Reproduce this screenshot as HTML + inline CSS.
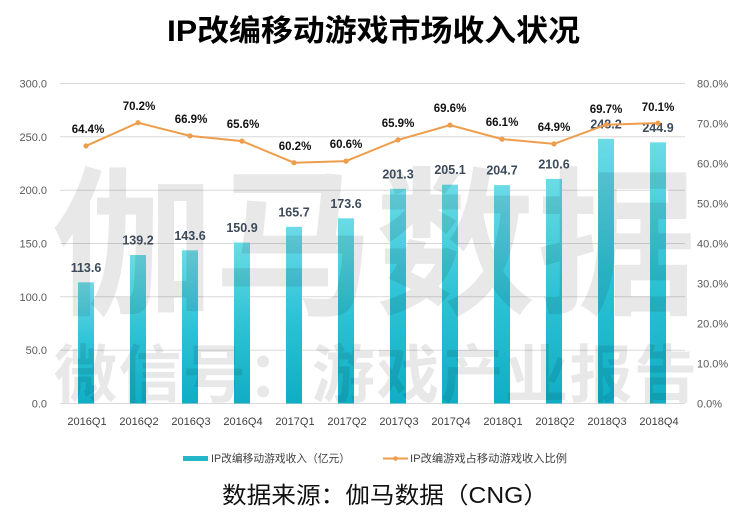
<!DOCTYPE html>
<html><head><meta charset="utf-8"><style>
html,body{margin:0;padding:0;background:#fff;}
svg{display:block;}
text{font-family:"Liberation Sans","Noto Sans CJK SC",sans-serif;}
</style></head><body>
<svg width="750" height="524" viewBox="0 0 750 524" xmlns="http://www.w3.org/2000/svg">
<defs>
<linearGradient id="bg" x1="0" y1="0" x2="0" y2="1">
<stop offset="0" stop-color="#6cdbe6"/>
<stop offset="0.5" stop-color="#2ec3d6"/>
<stop offset="1" stop-color="#10adc4"/>
</linearGradient>
</defs>
<rect width="750" height="524" fill="#fff"/>
<text x="167" y="41" font-size="30" font-weight="bold" fill="#000" textLength="413" lengthAdjust="spacingAndGlyphs" style="font-family:'Liberation Sans','Noto Sans CJK SC',sans-serif">IP改编移动游戏市场收入状况</text>
<g stroke="#d9d9d9" stroke-width="1">
<line x1="60" y1="83.5" x2="685" y2="83.5"/>
<line x1="60" y1="136.8" x2="685" y2="136.8"/>
<line x1="60" y1="190.2" x2="685" y2="190.2"/>
<line x1="60" y1="243.5" x2="685" y2="243.5"/>
<line x1="60" y1="296.8" x2="685" y2="296.8"/>
<line x1="60" y1="350.2" x2="685" y2="350.2"/>
<line x1="60" y1="403.5" x2="685" y2="403.5"/>
</g>
<g font-size="11" fill="#595959" text-anchor="end">
<text x="47" y="87.5">300.0</text>
<text x="47" y="140.8">250.0</text>
<text x="47" y="194.2">200.0</text>
<text x="47" y="247.5">150.0</text>
<text x="47" y="300.8">100.0</text>
<text x="47" y="354.2">50.0</text>
<text x="47" y="407.5">0.0</text>
</g>
<g font-size="11" fill="#595959">
<text x="697" y="87.5">80.0%</text>
<text x="697" y="127.5">70.0%</text>
<text x="697" y="167.5">60.0%</text>
<text x="697" y="207.5">50.0%</text>
<text x="697" y="247.5">40.0%</text>
<text x="697" y="287.5">30.0%</text>
<text x="697" y="327.5">20.0%</text>
<text x="697" y="367.5">10.0%</text>
<text x="697" y="407.5">0.0%</text>
</g>
<g fill="url(#bg)">
<rect x="78" y="282.3" width="16" height="121.2"/>
<rect x="130" y="255.0" width="16" height="148.5"/>
<rect x="182" y="250.3" width="16" height="153.2"/>
<rect x="234" y="242.5" width="16" height="161.0"/>
<rect x="286" y="226.8" width="16" height="176.7"/>
<rect x="338" y="218.3" width="16" height="185.2"/>
<rect x="390" y="188.8" width="16" height="214.7"/>
<rect x="442" y="184.7" width="16" height="218.8"/>
<rect x="494" y="185.1" width="16" height="218.4"/>
<rect x="546" y="178.9" width="16" height="224.6"/>
<rect x="598" y="138.8" width="16" height="264.7"/>
<rect x="650" y="142.3" width="16" height="261.2"/>
</g>
<g fill="rgba(0,0,0,0.09)" font-weight="bold" style="font-family:'Noto Sans CJK SC',sans-serif">
<text x="52" y="302" font-size="160" textLength="645" lengthAdjust="spacing">伽马数据</text>
<text x="54" y="397" font-size="63" textLength="643" lengthAdjust="spacing">微信号：游戏产业报告</text>
</g>
<g font-size="12.5" font-weight="bold" fill="#3d4a5a" text-anchor="middle">
<text x="86" y="271.8">113.6</text>
<text x="138" y="244.5">139.2</text>
<text x="190" y="239.8">143.6</text>
<text x="242" y="232.0">150.9</text>
<text x="294" y="216.3">165.7</text>
<text x="346" y="207.8">173.6</text>
<text x="398" y="178.3">201.3</text>
<text x="450" y="174.2">205.1</text>
<text x="502" y="174.6">204.7</text>
<text x="554" y="168.4">210.6</text>
<text x="606" y="128.3">248.2</text>
<text x="658" y="131.8">244.9</text>
</g>
<polyline fill="none" stroke="#ed9d4c" stroke-width="2" points="86,145.9 138,122.7 190,135.9 242,141.1 294,162.7 346,161.1 398,139.9 450,125.1 502,139.1 554,143.9 606,124.7 658,123.1"/>
<g fill="#ed9d4c">
<circle cx="86" cy="145.9" r="2.6"/><circle cx="138" cy="122.7" r="2.6"/><circle cx="190" cy="135.9" r="2.6"/><circle cx="242" cy="141.1" r="2.6"/><circle cx="294" cy="162.7" r="2.6"/><circle cx="346" cy="161.1" r="2.6"/><circle cx="398" cy="139.9" r="2.6"/><circle cx="450" cy="125.1" r="2.6"/><circle cx="502" cy="139.1" r="2.6"/><circle cx="554" cy="143.9" r="2.6"/><circle cx="606" cy="124.7" r="2.6"/><circle cx="658" cy="123.1" r="2.6"/>
</g>
<g font-size="11.5" font-weight="bold" fill="#111" text-anchor="middle">
<text x="88" y="133">64.4%</text>
<text x="139" y="110">70.2%</text>
<text x="191" y="123">66.9%</text>
<text x="243" y="128">65.6%</text>
<text x="295" y="150">60.2%</text>
<text x="346" y="148">60.6%</text>
<text x="398" y="127">65.9%</text>
<text x="450" y="112">69.6%</text>
<text x="502" y="126">66.1%</text>
<text x="554" y="131">64.9%</text>
<text x="606" y="113">69.7%</text>
<text x="658" y="111">70.1%</text>
</g>
<g font-size="11" fill="#404040" text-anchor="middle">
<text x="87" y="425">2016Q1</text>
<text x="139" y="425">2016Q2</text>
<text x="191" y="425">2016Q3</text>
<text x="243" y="425">2016Q4</text>
<text x="295" y="425">2017Q1</text>
<text x="347" y="425">2017Q2</text>
<text x="399" y="425">2017Q3</text>
<text x="451" y="425">2017Q4</text>
<text x="503" y="425">2018Q1</text>
<text x="555" y="425">2018Q2</text>
<text x="607" y="425">2018Q3</text>
<text x="659" y="425">2018Q4</text>
</g>
<rect x="183" y="456" width="25" height="5" fill="#25b6ca"/>
<text x="211" y="462" font-size="11" fill="#404040" textLength="139" lengthAdjust="spacingAndGlyphs">IP改编移动游戏收入（亿元）</text>
<line x1="383" y1="458.5" x2="408" y2="458.5" stroke="#ed9d4c" stroke-width="2"/>
<circle cx="395.5" cy="458.5" r="2.3" fill="#ed9d4c"/>
<text x="410" y="462" font-size="11" fill="#404040" textLength="157" lengthAdjust="spacingAndGlyphs">IP改编游戏占移动游戏收入比例</text>
<text x="222" y="503" font-size="23" fill="#111" textLength="326" lengthAdjust="spacingAndGlyphs">数据来源：伽马数据（CNG）</text>
</svg>
</body></html>
